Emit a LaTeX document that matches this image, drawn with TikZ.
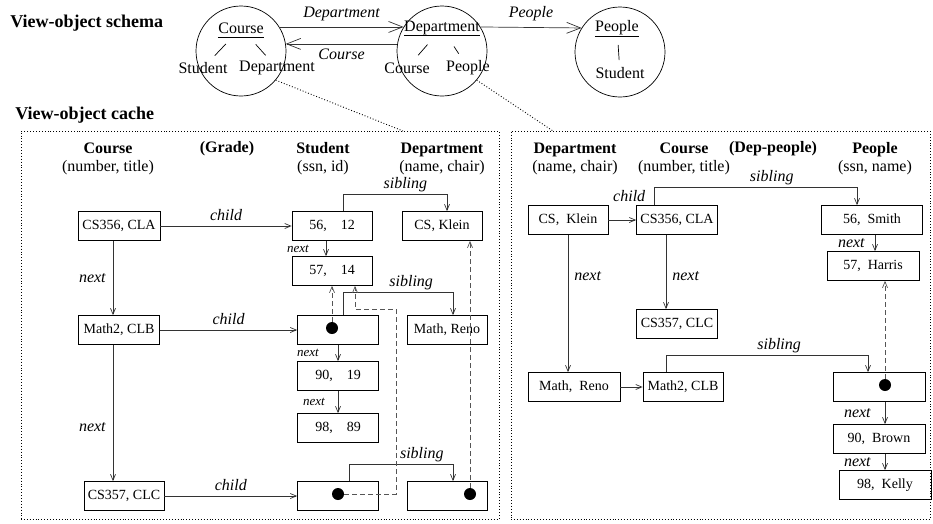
\documentclass[tikz,border=0pt]{standalone}
\usepackage{fontspec}
\setmainfont{Liberation Serif}
\usetikzlibrary{arrows.meta,positioning,calc}
\definecolor{voLine}{HTML}{333333}
\definecolor{voPtr}{HTML}{555555}
\tikzset{
  vo/.style={font=\fontsize{16}{18}\selectfont, line width=.7pt, >={Straight Barb[length=6pt, width=5pt]}},
  title/.style={font=\fontsize{18}{20}\selectfont\bfseries, anchor=west, inner sep=0pt},
  hdr/.style={align=center, inner sep=0pt},
  schema/.style={draw, circle, minimum size=90pt, inner sep=0pt},
  att/.style={inner sep=0pt},
  tree/.style={shorten <=22pt, shorten >=17pt},
  panel/.style={draw, dotted, line width=.9pt, inner sep=0pt, minimum height=388pt},
  rec/.style={draw, minimum height=29pt, minimum width=81pt, inner sep=0pt, font=\fontsize{14}{16}\selectfont},
  dot/.style={circle, fill, minimum size=12pt, inner sep=0pt},
  link/.style={->, draw=voLine},
  ptr/.style={->, draw=voPtr, dash pattern=on 5pt off 3pt},
  big/.style={->, draw=voLine, >={Straight Barb[length=14pt, width=11pt]}},
  hook/.style={draw, dotted, line width=.9pt},
  lbl/.style={font=\fontsize{16}{18}\selectfont\itshape, inner sep=1pt},
  sml/.style={font=\fontsize{13}{15}\selectfont\itshape, inner sep=1pt},
}
\begin{document}
\begin{tikzpicture}[vo, x=1pt, y=-1pt]
\useasboundingbox (0,0) rectangle (933,523);
% view-object schema
\node[title] (tSch) at (10,23) {View-object schema};
\node[schema] (c1) at (241,51) {};
\node[schema] (c2) at (442,51) {};
\node[schema] (c3) at (620,52) {};
\node[att] (c1r) at (241,28) {Course};
\node[att] (c1a) at (203,68) {Student};
\node[att] (c1b) at (277,68) {Department};
\node[att] (c2r) at (442,28) {Department};
\node[att] (c2a) at (407,68) {Course};
\node[att] (c2b) at (468,68) {People};
\node[att] (c3r) at (617,28) {People};
\node[att] (c3a) at (620,73) {Student};
\draw ([yshift=-4pt]c1r.base west) -- ([yshift=-4pt]c1r.base east);
\draw ([yshift=-4pt]c2r.base west) -- ([yshift=-4pt]c2r.base east);
\draw ([yshift=-4pt]c3r.base west) -- ([yshift=-4pt]c3r.base east);
\draw[tree] (c1r.center) -- (c1a.center);
\draw[tree] (c1r.center) -- (c1b.center);
\draw[tree] (c2r.center) -- (c2a.center);
\draw[tree] (c2r.center) -- (c2b.center);
\draw[tree, shorten <=17pt, shorten >=13pt] (c3r.center) -- (c3a.center);
\draw[big] (c1.32) -- node[lbl, above=5pt] {Department} (c2.148);
\draw[big] (c2.171) -- node[lbl, below=4pt] {Course} (c1.9);
\draw[big] (c2.32) -- node[lbl, above=5pt] {People} (c3.148);

% view-object cache
\node[title] (tCch) at (15,115) {View-object cache};
\node[panel, minimum width=478pt] (lpan) at (260,325) {};
\node[panel, minimum width=419pt] (rpan) at (720.5,325) {};
\coordinate (lhook) at (403,131);
\coordinate (rhook) at (553,131);
\draw[hook] (c1.-40) -- (lhook);
\draw[hook] (c2.-40) -- (rhook);

% left cache: headers
\node[hdr] (hCrs) at (108,159) {\textbf{Course}\\(number, title)};
\node[hdr] (hGrd) at (227,149) {\textbf{(Grade)}};
\node[hdr] (hStu) at (323,159) {\textbf{Student}\\(ssn, id)};
\node[hdr] (hDep) at (442,159) {\textbf{Department}\\(name, chair)};
% left cache: objects
\node[rec, minimum width=82pt] (crsA) at (119,226) {CS356, CLA};
\node[rec] (crsB) at (119,330) {Math2, CLB};
\node[rec, minimum width=80pt] (crsC) at (124,496) {CS357, CLC};
\node[rec, minimum width=80pt] (stuA) at (332,226) {56,\quad 12};
\node[rec, minimum width=80pt] (stuB) at (332,271) {57,\quad 14};
\node[rec] (grpB) at (338,330) {};
\node[rec] (stuC) at (338,376) {90,\quad 19};
\node[rec] (stuD) at (338,428) {98,\quad 89};
\node[rec] (grpC) at (338,496) {};
\node[rec, minimum width=80pt] (depA) at (442,226) {CS, Klein};
\node[rec, minimum width=80pt] (depB) at (447,330) {Math, Reno};
\node[rec, minimum width=80pt] (depC) at (447,496) {};
\node[dot] (dotB) at (332,328) {};
\node[dot] (dotC) at (338,494) {};
\node[dot] (dotD) at (470,494) {};

\draw[link] (crsA) -- node[lbl, above=4pt] {child} (stuA);
\draw[link] (crsB) -- node[lbl, above=4pt] {child} (grpB);
\draw[link] (crsC) -- node[lbl, above=4pt] {child} (grpC);
\draw[link] ([xshift=-6pt]crsA.south) -- node[lbl, left=6pt] {next} ([xshift=-6pt]crsB.north);
\draw[link] ([xshift=-6pt]crsB.south) -- node[lbl, left=6pt, pos=.6] {next} ([xshift=-11pt]crsC.north);
\draw[link] ([xshift=-6pt]stuA.south) -- node[sml, left=16pt] {next} ([xshift=-6pt]stuB.north);
\draw[link] (grpB) -- node[sml, left=18pt] {next} (stuC);
\draw[link] (stuC) -- node[sml, left=12pt] {next} (stuD);
\draw[link] ([xshift=11pt]stuA.north) -- ++(0,-17) -| node[lbl, pos=.3, above=1pt] {sibling} ([xshift=5pt]depA.north);
\draw[link] ([xshift=5pt]grpB.north) -- ++(0,-23) -| node[lbl, pos=.31, above=1pt] {sibling} ([xshift=6pt]depB.north);
\draw[link] ([xshift=11pt]grpC.north) -- ++(0,-17) -| node[lbl, pos=.35, above=1pt] {sibling} ([xshift=6pt]depC.north);
\draw[ptr] (dotB) -- (dotB |- stuB.south);
\draw[ptr] (dotC) -| (396,309) -| ([xshift=23pt]stuB.south);
\draw[ptr] (dotD) -- (dotD |- depA.south);

% right cache: headers
\node[hdr] (hDep2) at (575,159) {\textbf{Department}\\(name, chair)};
\node[hdr] (hCrs2) at (684,159) {\textbf{Course}\\(number, title)};
\node[hdr] (hDpp) at (773,149) {\textbf{(Dep-people)}};
\node[hdr] (hPpl) at (875,159) {\textbf{People}\\(ssn, name)};
% right cache: objects
\node[rec, minimum width=80pt] (dpA) at (568,220) {CS,\ \ Klein};
\node[rec, minimum width=92pt] (dpB) at (574,387) {Math,\ \ Reno};
\node[rec] (rcA) at (677,220) {CS356, CLA};
\node[rec] (rcB) at (677,324) {CS357, CLC};
\node[rec, minimum width=80pt] (rcC) at (683,387) {Math2, CLB};
\node[rec, minimum width=101pt] (ppA) at (872,220) {56,\ \ Smith};
\node[rec, minimum width=92pt] (ppB) at (873,266) {57,\ \ Harris};
\node[rec, minimum width=92pt] (grpG) at (879,387) {};
\node[rec, minimum width=92pt] (ppC) at (879,439) {90,\ \ Brown};
\node[rec, minimum width=92pt] (ppD) at (885,485) {98,\ \ Kelly};
\node[dot] (dotG) at (885,385) {};

\draw[link] (dpA) -- node[lbl, pos=.75, above=17pt] {child} (rcA);
\draw[link] (dpB) -- (rcC);
\draw[link] (dpA.south) -- node[lbl, right=5pt, pos=.3] {next} (dpA.south |- dpB.north);
\draw[link] ([xshift=-11pt]rcA.south) -- node[lbl, right=5pt, pos=.56] {next} ([xshift=-11pt]rcB.north);
\draw[link] ([xshift=-23pt]rcA.north) -- ++(0,-18) -| node[lbl, pos=.29, above=1pt] {sibling} ([xshift=-15pt]ppA.north);
\draw[link] ([xshift=-17pt]rcC.north) -- ++(0,-17) -| node[lbl, pos=.28, above=1pt] {sibling} ([xshift=-11pt]grpG.north);
\draw[link] ([xshift=3pt]ppA.south) -- node[lbl, left=9pt] {next} ([xshift=2pt]ppB.north);
\draw[link] ([xshift=6pt]grpG.south) -- node[lbl, left=13pt] {next} ([xshift=6pt]ppC.north);
\draw[link] ([xshift=6pt]ppC.south) -- node[lbl, left=13pt] {next} (ppD.north);
\draw[ptr] (dotG) -- (dotG |- ppB.south);
\end{tikzpicture}
\end{document}
